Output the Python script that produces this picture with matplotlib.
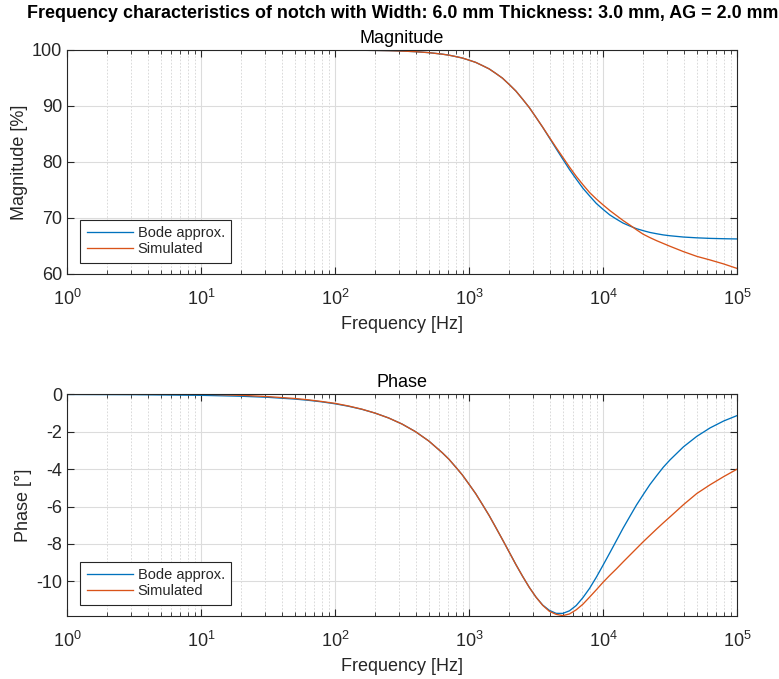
import matplotlib
matplotlib.use("Agg")
import matplotlib.pyplot as plt
from matplotlib.ticker import LogLocator, NullFormatter, MultipleLocator

# ---------------- data ----------------
freq_hz = [1, 3.162, 10, 19.95, 31.62, 50.12, 63.10, 79.43,
           100, 125.9, 158.5, 199.5, 251.2, 316.2, 398.1, 501.2, 631.0, 707.9, 794.3, 891.3,
           1000, 1122, 1259, 1413, 1585, 1778, 1995, 2239, 2512, 2818, 3162, 3548,
           3981, 4467, 5012, 5623, 6310, 7079, 7943, 8913,
           10000, 11220, 12589, 14125, 15849, 17783, 19953, 22387, 25119, 28184,
           31623, 39811, 50119, 63096, 79433, 100000]

bode_mag = [100, 100, 100, 100, 100, 100, 100, 100,
            99.98, 99.97, 99.95, 99.92, 99.88, 99.81, 99.70, 99.53, 99.26, 99.08, 98.83, 98.57,
            98.19, 97.79, 97.22, 96.63, 95.82, 94.97, 93.85, 92.67, 91.22, 89.72, 87.98, 86.20,
            84.30, 82.39, 80.51, 78.65, 76.96, 75.32, 73.94, 72.60,
            71.55, 70.56, 69.80, 69.09, 68.57, 68.09, 67.74, 67.42, 67.19, 66.98,
            66.83, 66.60, 66.46, 66.36, 66.30, 66.26]

sim_mag = [100, 100, 100, 100, 100, 100, 100, 100,
           99.98, 99.97, 99.95, 99.92, 99.88, 99.81, 99.70, 99.53, 99.26, 99.08, 98.83, 98.57,
           98.19, 97.79, 97.22, 96.63, 95.82, 94.97, 93.85, 92.67, 91.22, 89.72, 87.98, 86.22,
           84.40, 82.60, 80.85, 79.10, 77.45, 75.95, 74.55, 73.40,
           72.35, 71.35, 70.45, 69.55, 68.75, 67.90, 67.10, 66.50, 65.95, 65.45,
           64.95, 64.00, 63.15, 62.50, 61.80, 61.00]

bode_phase = [-0.005, -0.016, -0.050, -0.100, -0.158, -0.251, -0.316, -0.398,
              -0.503, -0.634, -0.797, -1.003, -1.261, -1.585, -1.990, -2.493, -3.117, -3.466, -3.880, -4.305,
              -4.802, -5.309, -5.887, -6.475, -7.117, -7.767, -8.432, -9.100, -9.728, -10.32, -10.84, -11.265,
              -11.55, -11.708, -11.71, -11.572, -11.29, -10.87, -10.37, -9.779,
              -9.138, -8.484, -7.820, -7.153, -6.530, -5.914, -5.361, -4.822, -4.351, -3.895,
              -3.504, -2.808, -2.244, -1.789, -1.425, -1.135]

sim_phase = [0.05, 0.04, 0.01, -0.05, -0.12, -0.22, -0.29, -0.38,
             -0.48, -0.62, -0.79, -1.003, -1.261, -1.585, -1.990, -2.493, -3.117, -3.466, -3.880, -4.305,
             -4.802, -5.309, -5.887, -6.475, -7.117, -7.767, -8.432, -9.100, -9.728, -10.32, -10.84, -11.28,
             -11.60, -11.76, -11.83, -11.74, -11.52, -11.22, -10.84, -10.45,
             -10.05, -9.68, -9.33, -8.96, -8.60, -8.24, -7.88, -7.54, -7.20, -6.87,
             -6.55, -5.90, -5.30, -4.83, -4.40, -4.00]

series_labels = ["Bode approx.", "Simulated"]
main_title = "Frequency characteristics of notch with Width: 6.0 mm Thickness: 3.0 mm, AG = 2.0 mm"

# ---------------- style ----------------
plt.rcParams['font.family'] = ['Liberation Sans', 'DejaVu Sans']
plt.rcParams['axes.unicode_minus'] = False
plt.rcParams['mathtext.fontset'] = 'custom'
plt.rcParams['mathtext.rm'] = 'Liberation Sans'
plt.rcParams['mathtext.it'] = 'Liberation Sans'

DARK = '#262626'
BLUE = '#0072BD'
ORANGE = '#D95319'

fig = plt.figure(figsize=(7.79, 6.79), dpi=100)
fig.patch.set_facecolor('white')

W, H = 779, 679
def rect(x0, y0, x1, y1):
    return [x0 / W, 1 - y1 / H, (x1 - x0) / W, (y1 - y0) / H]

ax1 = fig.add_axes(rect(67, 50, 737, 274))
ax2 = fig.add_axes(rect(67, 394, 737, 616))

def style(ax):
    ax.set_xscale('log')
    ax.set_xlim(1, 1e5)
    ax.xaxis.set_major_locator(LogLocator(base=10, numticks=10))
    ax.xaxis.set_minor_locator(LogLocator(base=10, subs=range(2, 10), numticks=20))
    ax.xaxis.set_minor_formatter(NullFormatter())
    ax.grid(True, which='major', color='#dcdcdc', linewidth=0.8, linestyle='-')
    ax.grid(True, which='minor', axis='x', color='#d4d4d4', linewidth=0.6, linestyle=(0, (2, 2)))
    ax.set_axisbelow(True)
    for s in ax.spines.values():
        s.set_color(DARK)
        s.set_linewidth(0.8)
    ax.tick_params(which='both', direction='in', top=True, right=True, colors=DARK,
                   labelsize=13, labelcolor=DARK)
    ax.tick_params(which='major', length=5, width=0.8)
    ax.tick_params(which='minor', length=3, width=0.6)
    ax.tick_params(axis='x', which='major', pad=10.5)
    ax.tick_params(axis='y', which='major', pad=3.5)
    ax.set_xlabel('Frequency [Hz]', fontsize=13, color=DARK, labelpad=5)

# Magnitude
style(ax1)
ax1.plot(freq_hz, bode_mag, color=BLUE, lw=0.95, label=series_labels[0])
ax1.plot(freq_hz, sim_mag, color=ORANGE, lw=0.95, label=series_labels[1])
ax1.set_ylim(60, 100)
ax1.yaxis.set_major_locator(MultipleLocator(10))
ax1.set_ylabel('Magnitude [%]', fontsize=13, color=DARK, labelpad=3)
ax1.set_title('Magnitude', fontsize=13, color='black', pad=5)

# Phase
style(ax2)
ax2.plot(freq_hz, bode_phase, color=BLUE, lw=0.95, label=series_labels[0])
ax2.plot(freq_hz, sim_phase, color=ORANGE, lw=0.95, label=series_labels[1])
ax2.set_ylim(-11.85, 0.02)
ax2.yaxis.set_major_locator(MultipleLocator(2))
ax2.set_ylabel('Phase [°]', fontsize=13, color=DARK, labelpad=3)
ax2.set_title('Phase', fontsize=13, color='black', pad=5)

for ax, h in ((ax1, 224), (ax2, 222)):
    leg = ax.legend(loc='lower left', bbox_to_anchor=(13 / 670, 11 / h), borderaxespad=0,
                    fontsize=10.5, frameon=True, fancybox=False, edgecolor=DARK,
                    framealpha=1, handlelength=3.2, handletextpad=0.3,
                    labelspacing=0.15, borderpad=0.45)
    leg.get_frame().set_linewidth(0.8)
    for t in leg.get_texts():
        t.set_color(DARK)

fig.text(27 / W, 1 - 13 / H, main_title, ha='left', va='center',
         fontsize=12.9, fontweight='bold', color='black')

fig.savefig('out.png', dpi=100, facecolor='white')
